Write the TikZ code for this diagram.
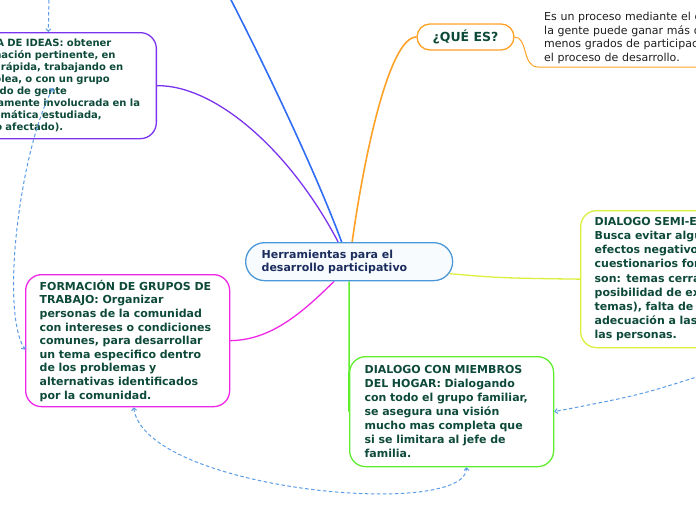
\documentclass[tikz,border=0pt]{standalone}
\usepackage{fontspec}
\setmainfont{DejaVu Sans}
\usetikzlibrary{arrows.meta}
\pgfdeclarelayer{bg}
\pgfsetlayers{bg,main}
\definecolor{txtgreen}{HTML}{0E4A3A}
\definecolor{navy}{HTML}{1B2D5E}
\definecolor{cblue}{HTML}{4A98D8}
\definecolor{lblue}{HTML}{2F6DF5}
\definecolor{cpurple}{HTML}{7A33EE}
\definecolor{corange}{HTML}{FFA126}
\definecolor{cyellow}{HTML}{DAF03C}
\definecolor{cgreen}{HTML}{5EEE2E}
\definecolor{cmagenta}{HTML}{F026E6}
\definecolor{crel}{HTML}{5A9BE6}
\definecolor{desctxt}{HTML}{1E1E1E}
\tikzset{
  box/.style={draw, line width=1.3pt, rounded corners=16pt, fill=white,
    align=left, text=txtgreen,
    font=\bfseries\fontsize{11}{13.6}\selectfont, inner ysep=0pt},
  conn/.style={line width=1.6pt},
  relline/.style={draw=crel, line width=1pt, dash pattern=on 3.5pt off 2.5pt},
  >={Straight Barb[length=2.5pt,width=5pt]}
}
\begin{document}
\begin{tikzpicture}[x=1pt,y=-1pt]
\useasboundingbox (0,0) rectangle (696,520);
\clip (0,0) rectangle (696,520);

% nodes
\node[box, draw=cpurple, font=\bfseries\fontsize{10}{12}\selectfont,
  text width=185pt, inner xsep=7pt, minimum height=106pt, anchor=north east]
  (tl) at (157,32) {LLUVIA DE IDEAS: obtener\\
información pertinente, en\\
forma rápida, trabajando en\\
asamblea, o con un grupo\\
reducido de gente\\
directamente involucrada en la\\
problemática estudiada,\\
(grupo afectado).};

\node[box, draw=cmagenta, text width=176pt, inner xsep=14pt,
  minimum height=132pt, anchor=north west]
  (fg) at (25,274) {FORMACIÓN DE GRUPOS DE\\
TRABAJO: Organizar\\
personas de la comunidad\\
con intereses o condiciones\\
comunes, para desarrollar\\
un tema especifico dentro\\
de los problemas y\\
alternativas identificados\\
por la comunidad.};

\node[box, draw=cgreen, font=\bfseries\fontsize{11}{14}\selectfont,
  text width=174pt, inner xsep=15pt, minimum height=110pt, anchor=north west]
  (hogar) at (349,356) {DIALOGO CON MIEMBROS\\
DEL HOGAR: Dialogando\\
con todo el grupo familiar,\\
se asegura una visión\\
mucho mas completa que\\
si se limitara al jefe de\\
familia.};

\node[box, draw=cyellow, font=\bfseries\fontsize{11}{14.1}\selectfont,
  text width=220pt, inner xsep=14pt, minimum height=137pt, anchor=north west]
  (rb) at (580,210) {DIALOGO SEMI-ESTRUCTURADO:\\
Busca evitar algunos de los\\
efectos negativos de los\\
cuestionarios formales que\\
son: temas cerrados (sin\\
posibilidad de explorar otros\\
temas), falta de diálogo y\\
adecuación a las condiciones de\\
las personas.};

\node[box, draw=cblue, fill=white!96!cblue, text=navy, rounded corners=19pt,
  font=\bfseries\fontsize{11}{12.7}\selectfont,
  text width=175pt, inner xsep=16pt, minimum height=38pt, anchor=north west]
  (center) at (245,242) {Herramientas para el\\desarrollo participativo};

\node[draw=corange, line width=1.3pt, rounded corners=13pt, fill=white,
  minimum width=97pt, minimum height=26pt, inner sep=0pt, text=txtgreen,
  font=\bfseries\fontsize{12.5}{14}\selectfont]
  (q) at (465.5,37) {¿QUÉ ES?};

\node[anchor=south west, text width=230pt, inner xsep=6pt, inner ysep=3pt,
  align=left, text=desctxt, font=\fontsize{11}{13.6}\selectfont]
  (desc) at (538,67) {Es un proceso mediante el cual\\
la gente puede ganar más o\\
menos grados de participación en\\
el proceso de desarrollo.};

% solid connectors
\begin{pgfonlayer}{bg}
\clip (0,0) rectangle (696,520);
\coordinate (blueend) at (229,-4);
\draw[conn, draw=lblue] ([xshift=-7.5pt]center.north) .. controls (315,170) and (262,60) .. (blueend);
\draw[line width=1.3pt, draw=cpurple] (tl.east) .. controls (215,85) and (290,150) .. ([xshift=-11pt]center.north);
\draw[conn, draw=corange] ([xshift=3pt]center.north) .. controls (365,150) and (390,37) .. (q.west);
\draw[line width=1.3pt, draw=cyellow] ([xshift=-4pt,yshift=-12pt]center.east) .. controls (500,278) .. (rb.west);
\draw[conn, draw=cgreen] (center.south) -- (hogar.west);
\draw[line width=1.3pt, draw=cmagenta] ([xshift=-15pt]center.south) .. controls (300,315) and (270,340) .. (fg.east);
\draw[line width=1pt, draw=corange] (q.east) .. controls (528,37) and (522,67) .. (desc.south west) -- (desc.south east);
\end{pgfonlayer}

% dashed relations
\coordinate (topsrc) at (49,-6);
\coordinate (bstart) at (53,88);
\coordinate (rsrc) at (706,374);
\draw[relline, ->] (topsrc) -- ([xshift=-8.5pt]tl.north);
\draw[relline, <->] (bstart) .. controls (20,150) and (0,310) .. ([yshift=-9pt]fg.west);
\draw[relline, ->] (rsrc) .. controls (640,395) .. (hogar.east);
\draw[relline, <->] ([xshift=6pt]fg.south) .. controls (145,490) and (465,520) .. ([xshift=15pt]hogar.south);
\end{tikzpicture}
\end{document}
